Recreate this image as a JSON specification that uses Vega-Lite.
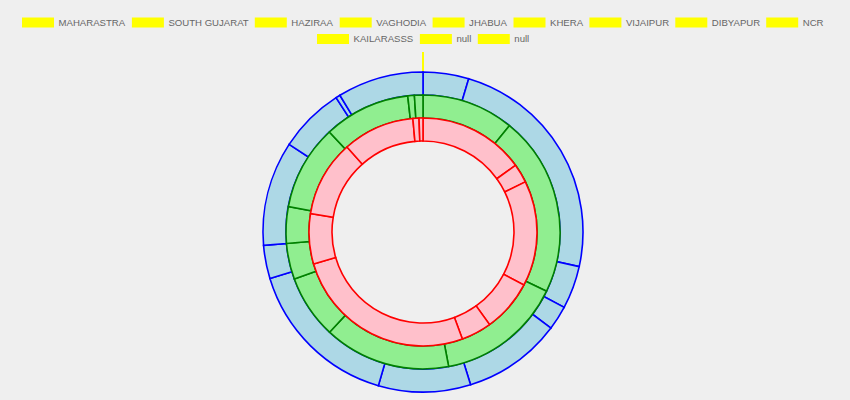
{
  "$schema": "https://vega.github.io/schema/vega-lite/v6.json",
  "width": 846,
  "height": 336,
  "autosize": "none",
  "padding": {"left": 0, "top": 64, "right": 4, "bottom": 0},
  "background": "#efefef",
  "config": {
    "view": {"stroke": null},
    "legend": {
      "symbolStrokeWidth": 0,
      "labelFont": "Liberation Sans",
      "labelFontSize": 9.6,
      "labelColor": "#666666",
      "labelOffset": 4.5,
      "columnPadding": 5.9,
      "padding": 0
    }
  },
  "datasets": {
    "outer": [
      {"i": 1, "v": 16.6}, {"i": 2, "v": 85.9}, {"i": 3, "v": 15.6}, {"i": 4, "v": 8.8},
      {"i": 5, "v": 35.8}, {"i": 6, "v": 33.5}, {"i": 7, "v": 56.9}, {"i": 8, "v": 12.1},
      {"i": 9, "v": 38.0}, {"i": 10, "v": 23.9}, {"i": 11, "v": 1.6}, {"i": 12, "v": 31.3}
    ],
    "middle": [
      {"i": 1, "v": 39.1}, {"i": 2, "v": 76.5}, {"i": 3, "v": 53.6}, {"i": 4, "v": 53.8},
      {"i": 5, "v": 26.9}, {"i": 6, "v": 15.3}, {"i": 7, "v": 15.5}, {"i": 8, "v": 36.2},
      {"i": 9, "v": 36.7}, {"i": 10, "v": 2.8}, {"i": 11, "v": 3.6}
    ],
    "inner": [
      {"i": 1, "v": 54.2}, {"i": 2, "v": 9.7}, {"i": 3, "v": 53.8}, {"i": 4, "v": 26.6},
      {"i": 5, "v": 15.5}, {"i": 6, "v": 93.9}, {"i": 7, "v": 25.6}, {"i": 8, "v": 38.9},
      {"i": 9, "v": 36.7}, {"i": 10, "v": 3.1}, {"i": 11, "v": 2.0}
    ],
    "leg1": [
      {"i": 1, "name": "MAHARASTRA", "v": 0}, {"i": 2, "name": "SOUTH GUJARAT", "v": 0},
      {"i": 3, "name": "HAZIRAA", "v": 0}, {"i": 4, "name": "VAGHODIA", "v": 0},
      {"i": 5, "name": "JHABUA", "v": 0}, {"i": 6, "name": "KHERA", "v": 0},
      {"i": 7, "name": "VIJAIPUR", "v": 0}, {"i": 8, "name": "DIBYAPUR", "v": 0},
      {"i": 9, "name": "NCR", "v": 0}
    ],
    "leg2": [
      {"i": 10, "name2": "KAILARASSS", "v": 0}, {"i": 11, "name2": "null", "v": 0},
      {"i": 12, "name2": "null (2)", "v": 0}
    ]
  },
  "layer": [
    {
      "data": {"name": "leg1"},
      "mark": {"type": "arc", "outerRadius": 180, "innerRadius": 160, "stroke": "#ffff00", "strokeWidth": 2},
      "encoding": {
        "theta": {"field": "v", "type": "quantitative", "stack": true, "scale": {"domain": [0, 360]}},
        "order": {"field": "i", "type": "quantitative"},
        "color": {
          "field": "name", "type": "nominal",
          "scale": {
            "domain": ["MAHARASTRA", "SOUTH GUJARAT", "HAZIRAA", "VAGHODIA", "JHABUA", "KHERA", "VIJAIPUR", "DIBYAPUR", "NCR"],
            "range": ["#ffff00", "#ffff00", "#ffff00", "#ffff00", "#ffff00", "#ffff00", "#ffff00", "#ffff00", "#ffff00"]
          },
          "legend": {
            "title": null, "orient": "none", "legendX": 22, "legendY": -57.5,
            "direction": "horizontal",
            "symbolType": "M-1,-0.3125H1V0.3125H-1Z", "symbolSize": 1024
          }
        }
      }
    },
    {
      "data": {"name": "leg2"},
      "mark": {"type": "arc", "outerRadius": 180, "innerRadius": 160, "stroke": "#ffff00", "strokeWidth": 2},
      "encoding": {
        "theta": {"field": "v", "type": "quantitative", "stack": true, "scale": {"domain": [0, 360]}},
        "order": {"field": "i", "type": "quantitative"},
        "fill": {
          "field": "name2", "type": "nominal",
          "scale": {
            "domain": ["KAILARASSS", "null", "null (2)"],
            "range": ["#ffff00", "#ffff00", "#ffff00"]
          },
          "legend": {
            "title": null, "orient": "none", "legendX": 317, "legendY": -41,
            "direction": "horizontal",
            "symbolType": "M-1,-0.3125H1V0.3125H-1Z", "symbolSize": 1024,
            "labelExpr": "datum.value === 'null (2)' ? 'null' : datum.label"
          }
        }
      }
    },
    {
      "data": {"name": "outer"},
      "mark": {"type": "arc", "outerRadius": 160, "innerRadius": 137, "fill": "#add8e6", "stroke": "#0000ff", "strokeWidth": 1.6},
      "encoding": {
        "theta": {"field": "v", "type": "quantitative", "stack": true, "scale": {"domain": [0, 360]}},
        "order": {"field": "i", "type": "quantitative"}
      }
    },
    {
      "data": {"name": "middle"},
      "mark": {"type": "arc", "outerRadius": 137, "innerRadius": 114, "fill": "#90ee90", "stroke": "#008000", "strokeWidth": 1.6},
      "encoding": {
        "theta": {"field": "v", "type": "quantitative", "stack": true, "scale": {"domain": [0, 360]}},
        "order": {"field": "i", "type": "quantitative"}
      }
    },
    {
      "data": {"name": "inner"},
      "mark": {"type": "arc", "outerRadius": 114, "innerRadius": 91, "fill": "#ffc0cb", "stroke": "#ff0000", "strokeWidth": 1.6},
      "encoding": {
        "theta": {"field": "v", "type": "quantitative", "stack": true, "scale": {"domain": [0, 360]}},
        "order": {"field": "i", "type": "quantitative"}
      }
    }
  ]
}
